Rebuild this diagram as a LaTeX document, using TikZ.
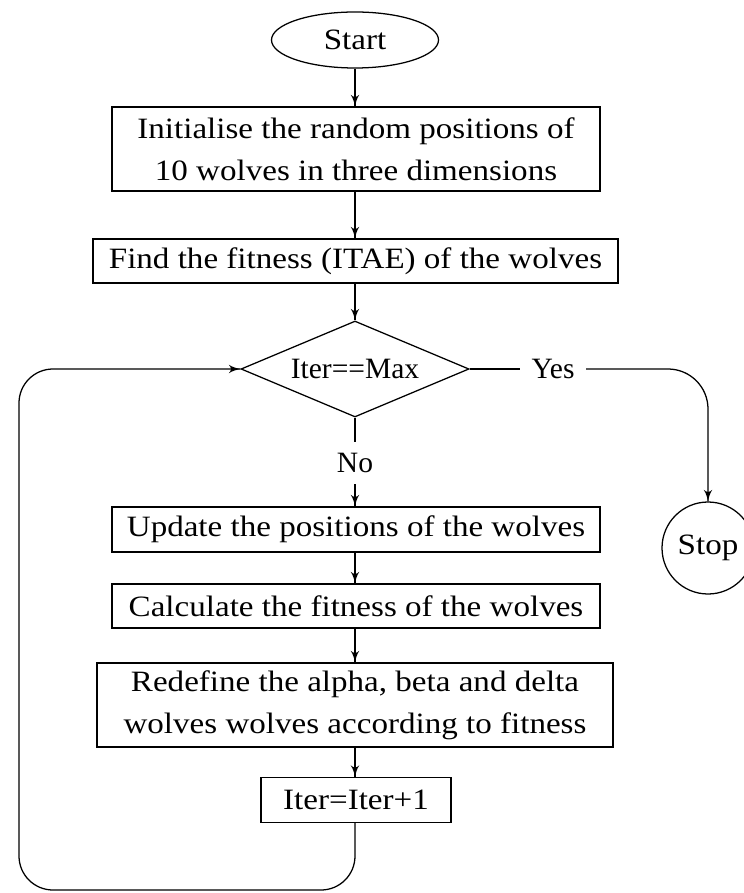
\documentclass[tikz,border=0pt]{standalone}
\usepackage{fontspec}
\setmainfont{Liberation Serif}[FakeStretch=1.12]
\newfontfamily\plainserif{Liberation Serif}
\usepackage{tikz}
\usetikzlibrary{arrows}
\usetikzlibrary{decorations.markings}
\usetikzlibrary{shapes.geometric}
\usetikzlibrary{positioning}
\tikzset{flow/.style = {decoration={markings,
                                    mark=at position 1 with {\arrow[scale=1.5]{latex'}}},
                        postaction={decorate}, line width = 0.9pt}}
\tikzset{link/.style = {line width = 0.9pt}}
\tikzset{procbox/.style = {draw, line width = 0.9pt, rectangle, align = center,
                           inner sep = 0, font = \fontsize{21}{29.8}\selectfont}}
\tikzset{termnode/.style = {draw, line width = 0.9pt, ellipse, inner sep = 0,
                            font = \fontsize{21}{29.8}\selectfont}}
\tikzset{decision/.style = {draw, line width = 0.9pt, diamond, aspect = 2.375,
                            inner sep = 0, font = \plainserif\fontsize{21}{29.8}\selectfont}}
\tikzset{tag/.style = {inner sep = 8pt, font = \plainserif\fontsize{21}{29.8}\selectfont}}

\begin{document}
\begin{tikzpicture}
      \useasboundingbox (0, 0) rectangle (18.6, -22.325);

      \node [termnode, minimum width = 4.175cm, minimum height = 1.4cm] (start) at (8.875, -1.0) {Start};
      \node [procbox, minimum width = 12.2cm, minimum height = 2.1cm] (init) at (8.9, -3.725)
            {Initialise the random positions of\\10 wolves in three dimensions};
      \node [procbox, minimum width = 13.125cm, minimum height = 1.1cm] (fit) at (8.8875, -6.525)
            {Find the fitness (ITAE) of the wolves};
      \node [decision, minimum width = 5.7cm, minimum height = 2.4cm] (cond) at (8.875, -9.225) {Iter==Max};
      \node [tag] (yes) at (13.825, -9.225) {Yes};
      \node [tag] (no) at (8.875, -11.575) {No};
      \node [circle, draw, line width = 0.9pt, minimum size = 2.3cm, inner sep = 0,
             font = \fontsize{21}{29.8}\selectfont] (stop) at (17.7, -13.7) {Stop};
      \node [procbox, minimum width = 12.2cm, minimum height = 1.125cm] (upd) at (8.9, -13.2375)
            {Update the positions of the wolves};
      \node [procbox, minimum width = 12.2cm, minimum height = 1.1cm] (calc) at (8.9, -15.15)
            {Calculate the fitness of the wolves};
      \node [procbox, minimum width = 12.9cm, minimum height = 2.1cm] (redef) at (8.875, -17.625)
            {Redefine the alpha, beta and delta\\wolves wolves according to fitness};
      \node [procbox, minimum width = 4.75cm, minimum height = 1.125cm] (incr) at (8.9, -20.0) {Iter=Iter+1};
      \coordinate (loopdown) at (8.875, -22.25);
      \coordinate (loopleft) at (0.475, -22.25);
      \coordinate (loopup) at (0.475, -9.225);

      \draw [flow] (start) -- (start |- init.north);
      \draw [flow] (start |- init.south) -- (start |- fit.north);
      \draw [flow] (start |- fit.south) -- (cond.north);
      \draw [link] (cond.east) -- (yes.west);
      \draw [flow, rounded corners = 1.0cm] (yes.east) -- (stop.north |- yes) -- (stop.north);
      \draw [link] (cond.south) -- (no.north);
      \draw [flow] (no.south) -- (no |- upd.north);
      \draw [flow] (no |- upd.south) -- (no |- calc.north);
      \draw [flow] (no |- calc.south) -- (no |- redef.north);
      \draw [flow] (no |- redef.south) -- (no |- incr.north);
      \draw [flow, rounded corners = 0.85cm] (no |- incr.south) -- (loopdown) -- (loopleft) -- (loopup) -- (cond.west);
    \end{tikzpicture}
\end{document}
